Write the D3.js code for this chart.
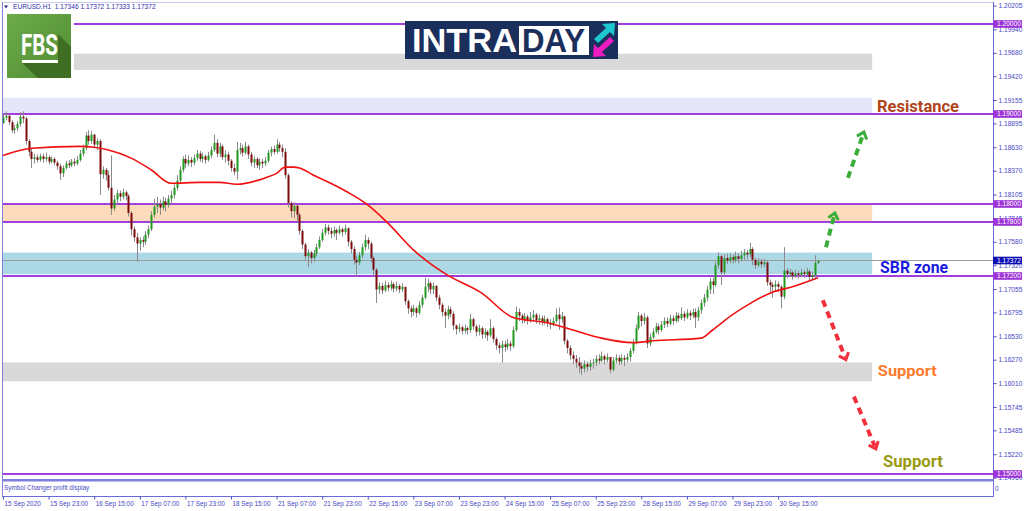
<!DOCTYPE html>
<html><head><meta charset="utf-8">
<script src="https://cdn.jsdelivr.net/npm/d3@7"></script>
<style>html,body{margin:0;padding:0;background:#fff;overflow:hidden}</style>
</head><body>
<svg id="c" width="1024" height="511"></svg>
<script>
// ---------------- DATA ----------------
const symbolTitle = "EURUSD.H1  1.17346 1.17372 1.17333 1.17372";
const firstOpen = 1.1890;
const closes = [
1.1896,1.1898,1.1891,1.1882,1.1884,1.1889,1.1897,1.1895,1.1870,1.1858,
1.1850,1.1852,1.1849,1.1853,1.1850,1.1852,1.1847,1.1850,1.1846,1.1842,
1.1834,1.1840,1.1845,1.1843,1.1847,1.1845,1.1849,1.1856,1.1862,1.1876,
1.1870,1.1877,1.1866,1.1870,1.1833,1.1838,1.1832,1.1818,1.1795,1.1805,
1.1812,1.1808,1.1813,1.1809,1.1790,1.1772,1.1763,1.1756,1.1760,1.1758,
1.1766,1.1772,1.1788,1.1797,1.1800,1.1796,1.1803,1.1799,1.1806,1.1810,
1.1818,1.1826,1.1838,1.1850,1.1845,1.1849,1.1846,1.1851,1.1856,1.1850,
1.1853,1.1849,1.1854,1.1860,1.1868,1.1856,1.1864,1.1852,1.1855,1.1848,
1.1840,1.1836,1.1860,1.1862,1.1857,1.1864,1.1855,1.1846,1.1850,1.1843,
1.1847,1.1845,1.1848,1.1857,1.1861,1.1858,1.1866,1.1862,1.1858,1.1832,
1.1801,1.1792,1.1798,1.1788,1.1770,1.1755,1.1742,1.1746,1.1740,1.1745,
1.1752,1.1760,1.1768,1.1774,1.1770,1.1767,1.1771,1.1768,1.1772,1.1769,
1.1773,1.1758,1.1750,1.1738,1.1735,1.1743,1.1752,1.1760,1.1756,1.1740,
1.1727,1.1705,1.1709,1.1704,1.1710,1.1707,1.1711,1.1706,1.1709,1.1705,
1.1708,1.1692,1.1684,1.1680,1.1684,1.1679,1.1688,1.1696,1.1708,1.1712,
1.1705,1.1709,1.1696,1.1688,1.1680,1.1676,1.1683,1.1678,1.1665,1.1661,
1.1663,1.1659,1.1662,1.1660,1.1672,1.1664,1.1658,1.1662,1.1655,1.1658,
1.1654,1.1662,1.1650,1.1643,1.1640,1.1644,1.1641,1.1645,1.1642,1.1660,
1.1680,1.1676,1.1672,1.1675,1.1670,1.1674,1.1677,1.1671,1.1673,1.1669,
1.1672,1.1668,1.1666,1.1670,1.1677,1.1672,1.1675,1.1648,1.1640,1.1632,
1.1628,1.1624,1.1620,1.1617,1.1622,1.1619,1.1623,1.1624,1.1628,1.1626,
1.1631,1.1627,1.1630,1.1616,1.1626,1.1629,1.1625,1.1629,1.1627,1.1630,
1.1637,1.1646,1.1662,1.1676,1.1670,1.1674,1.1645,1.1652,1.1658,1.1664,
1.1660,1.1666,1.1670,1.1667,1.1673,1.1670,1.1676,1.1673,1.1678,1.1674,
1.1679,1.1676,1.1680,1.1674,1.1682,1.1690,1.1696,1.1705,1.1714,1.1710,
1.1732,1.1742,1.1724,1.1740,1.1737,1.1741,1.1738,1.1742,1.1739,1.1743,
1.1746,1.1744,1.1750,1.1738,1.1732,1.1736,1.1733,1.1735,1.1713,1.1710,
1.1708,1.1711,1.1708,1.1697,1.1726,1.1722,1.1724,1.1720,1.1723,1.1721,
1.1724,1.1722,1.1725,1.1719,1.1721,1.17346,1.17372];
const highs = [
1.1901,1.1903,1.1900,1.1893,1.1888,1.1892,1.1902,1.1903,1.1897,1.1872,
1.1862,1.1856,1.1855,1.1856,1.1856,1.1857,1.1854,1.1853,1.1852,1.1848,
1.1845,1.1843,1.1848,1.1849,1.1850,1.1851,1.1853,1.1860,1.1866,1.1880,
1.1882,1.1881,1.1878,1.1873,1.1872,1.1842,1.1840,1.1837,1.1854,1.1810,
1.1816,1.1815,1.1817,1.1815,1.1811,1.1792,1.1775,1.1768,1.1763,1.1764,
1.1770,1.1776,1.1792,1.1806,1.1808,1.1805,1.1808,1.1807,1.1810,1.1815,
1.1822,1.1832,1.1842,1.1853,1.1855,1.1854,1.1852,1.1855,1.1860,1.1859,
1.1857,1.1855,1.1858,1.1864,1.1877,1.1872,1.1868,1.1866,1.1860,1.1858,
1.1850,1.1845,1.1869,1.1868,1.1866,1.1869,1.1866,1.1858,1.1853,1.1852,
1.1851,1.1850,1.1852,1.1860,1.1864,1.1865,1.1872,1.1869,1.1866,1.1862,
1.1834,1.1803,1.1802,1.1799,1.1790,1.1772,1.1757,1.1750,1.1748,1.1749,
1.1756,1.1764,1.1772,1.1778,1.1777,1.1774,1.1775,1.1773,1.1776,1.1774,
1.1777,1.1774,1.1760,1.1753,1.1742,1.1747,1.1756,1.1766,1.1763,1.1758,
1.1742,1.1729,1.1713,1.1712,1.1715,1.1713,1.1715,1.1713,1.1714,1.1711,
1.1712,1.1707,1.1694,1.1687,1.1688,1.1686,1.1692,1.1699,1.1718,1.1717,
1.1714,1.1713,1.1710,1.1699,1.1690,1.1684,1.1687,1.1686,1.1681,1.1666,
1.1667,1.1665,1.1666,1.1664,1.1678,1.1674,1.1666,1.1666,1.1664,1.1662,
1.1660,1.1672,1.1664,1.1652,1.1646,1.1648,1.1648,1.1650,1.1648,1.1664,
1.1686,1.1684,1.1678,1.1679,1.1677,1.1680,1.1682,1.1679,1.1677,1.1676,
1.1676,1.1674,1.1672,1.1674,1.1684,1.1685,1.1680,1.1676,1.1650,1.1643,
1.1636,1.1632,1.1630,1.1624,1.1626,1.1625,1.1627,1.1628,1.1632,1.1633,
1.1636,1.1633,1.1634,1.1630,1.1630,1.1633,1.1632,1.1633,1.1632,1.1634,
1.1640,1.1650,1.1666,1.1680,1.1678,1.1679,1.1676,1.1656,1.1662,1.1668,
1.1667,1.1670,1.1674,1.1674,1.1677,1.1676,1.1680,1.1679,1.1685,1.1681,
1.1683,1.1682,1.1684,1.1684,1.1686,1.1694,1.1700,1.1709,1.1718,1.1718,
1.1736,1.1746,1.1744,1.1744,1.1745,1.1745,1.1744,1.1747,1.1745,1.1748,
1.1750,1.1749,1.1757,1.1752,1.1740,1.1740,1.1739,1.1739,1.1737,1.1716,
1.1713,1.1715,1.1714,1.1710,1.1752,1.1729,1.1728,1.1726,1.1727,1.1726,
1.1728,1.1727,1.1729,1.1727,1.1725,1.1743,1.17372];
const lows = [
1.1889,1.1893,1.1888,1.1879,1.1878,1.1881,1.1886,1.1890,1.1866,1.1853,
1.1840,1.1845,1.1846,1.1847,1.1846,1.1847,1.1844,1.1845,1.1843,1.1838,
1.1827,1.1830,1.1838,1.1840,1.1841,1.1842,1.1843,1.1847,1.1853,1.1860,
1.1866,1.1867,1.1862,1.1860,1.1810,1.1828,1.1826,1.1815,1.1788,1.1792,
1.1800,1.1803,1.1805,1.1804,1.1786,1.1765,1.1758,1.1736,1.1748,1.1752,
1.1755,1.1762,1.1770,1.1785,1.1790,1.1788,1.1793,1.1792,1.1796,1.1800,
1.1806,1.1815,1.1823,1.1835,1.1840,1.1842,1.1841,1.1843,1.1848,1.1847,
1.1846,1.1845,1.1847,1.1851,1.1858,1.1852,1.1852,1.1849,1.1846,1.1843,
1.1836,1.1832,1.1827,1.1855,1.1853,1.1855,1.1850,1.1842,1.1840,1.1840,
1.1838,1.1840,1.1842,1.1846,1.1853,1.1855,1.1856,1.1858,1.1852,1.1828,
1.1796,1.1785,1.1784,1.1780,1.1766,1.1750,1.1738,1.1730,1.1734,1.1736,
1.1742,1.1750,1.1758,1.1765,1.1766,1.1762,1.1764,1.1760,1.1766,1.1764,
1.1766,1.1753,1.1745,1.1733,1.1719,1.1732,1.1740,1.1748,1.1750,1.1735,
1.1720,1.1690,1.1700,1.1700,1.1702,1.1703,1.1704,1.1702,1.1703,1.1701,
1.1702,1.1688,1.1678,1.1674,1.1676,1.1674,1.1677,1.1685,1.1694,1.1702,
1.1700,1.1700,1.1692,1.1683,1.1675,1.1662,1.1672,1.1674,1.1660,1.1655,
1.1657,1.1655,1.1656,1.1655,1.1657,1.1660,1.1653,1.1654,1.1650,1.1651,
1.1648,1.1652,1.1646,1.1638,1.1634,1.1624,1.1636,1.1638,1.1637,1.1640,
1.1658,1.1670,1.1667,1.1668,1.1666,1.1668,1.1670,1.1667,1.1666,1.1665,
1.1666,1.1663,1.1661,1.1664,1.1668,1.1660,1.1668,1.1644,1.1634,1.1627,
1.1622,1.1618,1.1612,1.1610,1.1613,1.1614,1.1615,1.1617,1.1620,1.1622,
1.1624,1.1622,1.1624,1.1612,1.1614,1.1623,1.1621,1.1622,1.1620,1.1624,
1.1625,1.1634,1.1644,1.1660,1.1664,1.1666,1.1640,1.1642,1.1650,1.1656,
1.1655,1.1658,1.1662,1.1663,1.1665,1.1666,1.1668,1.1669,1.1671,1.1670,
1.1672,1.1671,1.1673,1.1662,1.1670,1.1678,1.1686,1.1692,1.1700,1.1700,
1.1708,1.1728,1.1710,1.1720,1.1733,1.1734,1.1734,1.1735,1.1734,1.1736,
1.1738,1.1739,1.1741,1.1732,1.1728,1.1730,1.1729,1.1730,1.1709,1.1700,
1.1696,1.1703,1.1702,1.1684,1.1694,1.1718,1.1719,1.1716,1.1718,1.1717,
1.1719,1.1718,1.1720,1.1715,1.1716,1.1718,1.17333];

const maBars   = [0,10,27,32,37,45,52,59,69,76,82,92,96,99,102,104,109,115,121,128,135,144,149,156,168,179,191,200,210,221,228,245,249,256,263,270,277,286];
const maValues = [1.1854,1.1862,1.1864,1.1863,1.1860,1.1851,1.1838,1.1823,1.1824,1.1824,1.1822,1.1829,1.1834,1.1841,1.1841,1.1840,1.1832,1.1823,1.1813,1.1799,1.1779,1.1749,1.1736,1.1721,1.1701,1.1674,1.1668,1.1660,1.1651,1.1646,1.1648,1.1651,1.1660,1.1677,1.1691,1.1702,1.1708,1.1718];

const levelPrices = [1.20000,1.19000,1.18000,1.17800,1.17200,1.15000];
const levelLabels = ["1.20000","1.19000","1.18000","1.17800","1.17200","1.15000"];
const currentPrice = 1.17372;
const currentLabel = "1.17372";

const priceTickLabels = ["1.20205","1.19940","1.19680","1.19420","1.19155","1.18895","1.18630","1.18370","1.18105","1.17845","1.17580","1.17320","1.17055","1.16795","1.16530","1.16270","1.16010","1.15745","1.15485","1.15220","1.14960"];
const timeTickBars = [0,16,32,48,64,80,96,112,128,144,160,176,192,208,224,240,256,272];
const timeTickLabels = ["15 Sep 2020","15 Sep 23:00","16 Sep 15:00","17 Sep 07:00","17 Sep 23:00","18 Sep 15:00","21 Sep 07:00","21 Sep 23:00","22 Sep 15:00","23 Sep 07:00","23 Sep 23:00","24 Sep 15:00","25 Sep 07:00","25 Sep 23:00","28 Sep 15:00","29 Sep 07:00","29 Sep 23:00","30 Sep 15:00"];

const zoneHigh = [1.1967,1.1918,1.1799,1.1746,1.1624];
const zoneLow  = [1.1949,1.1901,1.1780,1.1722,1.1603];
const zoneEndBar = 305;

const arrowFromBar   = [288.8,296.5,287.7,298.6];
const arrowFromPrice = [1.1752,1.1829,1.1693,1.1586];
const arrowToBar     = [291.9,302.1,295.8,306.3];
const arrowToPrice   = [1.1790,1.1880,1.1627,1.1528];
const arrowKinds     = ["up","up","down","down"];

const noteTexts  = ["Resistance","SBR zone","Support","Support"];
const noteBar    = [306.7,307.8,307.0,308.8];
const notePrice  = [1.19022,1.17233,1.16089,1.15078];

const subWindowTitle = "Symbol Changer profit display";

// ---------------- DRAW ----------------
const svg = d3.select('#c');
const plotL = 2, plotR = 993, plotT = 3, plotB = 480;
const x = d3.scaleLinear().domain([0, 286]).range([3, 818]);
const y = d3.scaleLinear().domain([1.15, 1.20]).range([474, 24]);
const AX = "'Liberation Sans', Arial, sans-serif";

svg.append('rect').attr('width',1024).attr('height',511).attr('fill','#fff');
svg.append('defs').append('clipPath').attr('id','plot')
  .append('rect').attr('x',plotL).attr('y',plotT).attr('width',plotR-plotL).attr('height',plotB-plotT);
const g = svg.append('g').attr('clip-path','url(#plot)');

const zoneColors = ['#d9d9d9','#e6e6fa','#fddbbb','#add8e6','#d9d9d9'];
g.selectAll('rect.zone').data(zoneHigh).join('rect').attr('class','zone')
  .attr('x', plotL).attr('width', x(zoneEndBar)-plotL)
  .attr('y', (d)=>y(d)).attr('height',(d,i)=>y(zoneLow[i])-y(d))
  .attr('fill',(d,i)=>zoneColors[i]);

// current price line
g.append('line').attr('x1',plotL).attr('x2',plotR).attr('y1',y(currentPrice)).attr('y2',y(currentPrice))
  .attr('stroke','#9a9a9a').attr('stroke-width',1);
// level lines
g.selectAll('line.lvl').data(levelPrices).join('line').attr('class','lvl')
  .attr('x1',plotL).attr('x2',plotR).attr('y1',d=>y(d)).attr('y2',d=>y(d))
  .attr('stroke','#a13fdc').attr('stroke-width',1.8);

// candles
const opens = closes.map((c,i)=> i===0 ? firstOpen : closes[i-1]);
const cg = g.append('g');
closes.forEach((c,i)=>{
  const xc = Math.round(x(i)) + 0.5;
  cg.append('line').attr('x1',xc).attr('x2',xc).attr('y1',y(highs[i])).attr('y2',y(lows[i]))
    .attr('stroke','#8a8a8a').attr('stroke-width',1);
  const o = opens[i];
  const top = y(Math.max(o,c)), bot = y(Math.min(o,c));
  cg.append('rect').attr('x',xc-1).attr('width',2).attr('y',top).attr('height',Math.max(1,bot-top))
    .attr('fill', c>=o ? '#1f9a1f' : '#7d0a0a');
});

// moving average
const maLine = d3.line().x(d=>x(d[0])).y(d=>y(d[1])).curve(d3.curveMonotoneX);
g.append('path').datum(maBars.map((b,i)=>[b,maValues[i]])).attr('d',maLine)
  .attr('fill','none').attr('stroke','#f01010').attr('stroke-width',1.6);

// arrows
const arrowColor = {up:'#3aad3a', down:'#f2303e'};
arrowFromBar.forEach((b,i)=>{
  const x1=x(b), y1=y(arrowFromPrice[i]), x2=x(arrowToBar[i]), y2=y(arrowToPrice[i]);
  const col = arrowColor[arrowKinds[i]];
  const dx=x2-x1, dy=y2-y1, L=Math.hypot(dx,dy), ux=dx/L, uy=dy/L;
  g.append('line').attr('x1',x1).attr('y1',y1).attr('x2',x2-ux*3).attr('y2',y2-uy*3)
    .attr('stroke',col).attr('stroke-width',4).attr('stroke-dasharray','7,5');
  const rot=(vx,vy,t)=>[vx*Math.cos(t)-vy*Math.sin(t), vx*Math.sin(t)+vy*Math.cos(t)];
  const a = Math.PI-0.7, hl=8;
  const [ax,ay]=rot(ux,uy,a), [bx,by]=rot(ux,uy,-a);
  g.append('path').attr('d',`M${x2+ax*hl},${y2+ay*hl}L${x2},${y2}L${x2+bx*hl},${y2+by*hl}`)
    .attr('fill','none').attr('stroke',col).attr('stroke-width',3);
});

// notes
const noteColors = ['#b0441c','#1a1ae0','#ff7a2a','#9a9a12'];
const noteSizes = [17,17,15,16];
const noteWidths = [82,68,59,60];
noteTexts.forEach((t,i)=>{
  g.append('text').attr('x',x(noteBar[i])).attr('y',y(notePrice[i])).text(t)
    .attr('font-family',"Roboto, 'Open Sans', sans-serif").attr('font-weight','bold')
    .attr('font-size',noteSizes[i]).attr('fill',noteColors[i])
    .attr('textLength',noteWidths[i]).attr('lengthAdjust','spacingAndGlyphs');
});

// FBS logo
const logo = svg.append('g');
logo.append('rect').attr('x',3).attr('y',11).attr('width',71).attr('height',71).attr('fill','#fff');
const lg = svg.append('defs').append('linearGradient').attr('id','fbsg').attr('x1','0').attr('y1','0').attr('x2','1').attr('y2','1');
lg.append('stop').attr('offset','0').attr('stop-color','#6eab4a');
lg.append('stop').attr('offset','1').attr('stop-color','#4f8c32');
logo.append('rect').attr('x',7).attr('y',14).attr('width',64).attr('height',64).attr('fill','url(#fbsg)');
logo.append('path').attr('d','M58,34 L71,47 L71,78 L38,78 L22,63 L58,63 Z').attr('fill','#3d6e24');
logo.append('text').attr('x',21).attr('y',55).text('FBS').attr('font-family',"Roboto, sans-serif")
  .attr('font-weight','bold').attr('font-size',29).attr('fill','#fff')
  .attr('textLength',37).attr('lengthAdjust','spacingAndGlyphs');
logo.append('rect').attr('x',22).attr('y',60).attr('width',36).attr('height',3).attr('fill','#fff');

// INTRADAY logo
const il = svg.append('g');
il.append('rect').attr('x',405).attr('y',21).attr('width',213).attr('height',38).attr('fill','#1b2f5c');
il.append('text').attr('x',412).attr('y',52).text('INTRA').attr('font-family',"'Liberation Sans', Arial, sans-serif")
  .attr('font-weight','bold').attr('font-size',33).attr('fill','#fff')
  .attr('textLength',105).attr('lengthAdjust','spacingAndGlyphs');
il.append('rect').attr('x',519).attr('y',26).attr('width',70).attr('height',29).attr('fill','#fff');
il.append('text').attr('x',522).attr('y',52).text('DAY').attr('font-family',"'Liberation Sans', Arial, sans-serif")
  .attr('font-weight','bold').attr('font-size',33).attr('fill','#1b2f5c')
  .attr('textLength',63).attr('lengthAdjust','spacingAndGlyphs');
il.append('path').attr('d','M594,39 L606,28 L602,24 L615,23 L614,36 L610,32 L598,43 Z').attr('fill','#1cc7cf');
il.append('path').attr('d','M614,41 L602,52 L606,56 L593,57 L594,44 L598,48 L610,37 Z').attr('fill','#ee1cc0');

// frame
const fc = '#8080dc';
svg.append('line').attr('x1',plotL).attr('x2',plotR).attr('y1',2.5).attr('y2',2.5).attr('stroke','#c8c8e8');
svg.append('line').attr('x1',plotL+0.5).attr('x2',plotL+0.5).attr('y1',2).attr('y2',497).attr('stroke',fc);
svg.append('line').attr('x1',plotR+0.5).attr('x2',plotR+0.5).attr('y1',2).attr('y2',497).attr('stroke','#6a6ad8');
svg.append('rect').attr('x',plotL).attr('y',479).attr('width',plotR-plotL+1).attr('height',2.5).attr('fill',fc);
svg.append('line').attr('x1',plotL).attr('x2',plotR+1).attr('y1',496.5).attr('y2',496.5).attr('stroke','#6a6ad8');
svg.append('text').attr('x',4).attr('y',490).text(subWindowTitle).attr('font-family',AX)
  .attr('font-size',6.4).attr('fill','#4a4ac4');
svg.append('text').attr('x',995).attr('y',491).text('0').attr('font-family',AX)
  .attr('font-size',6.4).attr('fill','#4a4ac4');

// header
svg.append('path').attr('d','M4,5.5 L8,5.5 L6,8.5 Z').attr('fill','#2a2a9a');
svg.append('text').attr('x',13).attr('y',9.3).text(symbolTitle).attr('font-family',AX)
  .attr('font-size',6.6).attr('fill','#2e2ea8').attr('xml:space','preserve').style('white-space','pre');

// price axis
const yAxis = d3.axisRight(y).tickValues(priceTickLabels.map(Number)).tickSize(3)
  .tickFormat((d,i)=>priceTickLabels[i]);
const ya = svg.append('g').attr('transform',`translate(${plotR+0.5},0)`).call(yAxis);
ya.select('.domain').remove();
ya.selectAll('line').attr('stroke','#4a4ac4');
ya.selectAll('text').attr('font-family',AX).attr('font-size',6.6).attr('fill','#4646c4').attr('x',5);

// level label boxes
const boxes = svg.append('g');
levelPrices.forEach((p,i)=>{
  boxes.append('rect').attr('x',plotR).attr('y',y(p)-3.8).attr('width',29).attr('height',7.6).attr('fill','#9d34d8');
  boxes.append('text').attr('x',plotR+4).attr('y',y(p)+2.4).text(levelLabels[i]).attr('font-family',AX)
    .attr('font-size',6.6).attr('fill','#fff');
});
boxes.append('rect').attr('x',plotR).attr('y',y(currentPrice)-3.8).attr('width',29).attr('height',7.6).attr('fill','#0d0db4');
boxes.append('text').attr('x',plotR+4).attr('y',y(currentPrice)+2.4).text(currentLabel).attr('font-family',AX)
  .attr('font-size',6.6).attr('fill','#fff');

// time axis
const xAxis = d3.axisBottom(x).tickValues(timeTickBars).tickSize(3)
  .tickFormat((d,i)=>timeTickLabels[i]);
const xa = svg.append('g').attr('transform','translate(0,496.5)').call(xAxis);
xa.select('.domain').remove();
xa.selectAll('line').attr('stroke','#4a4ac4');
xa.selectAll('text').attr('font-family',AX).attr('font-size',6.4).attr('fill','#4646c4')
  .attr('text-anchor','start').attr('x',1).attr('y',5).attr('dy','0.71em');
</script>
</body></html>
